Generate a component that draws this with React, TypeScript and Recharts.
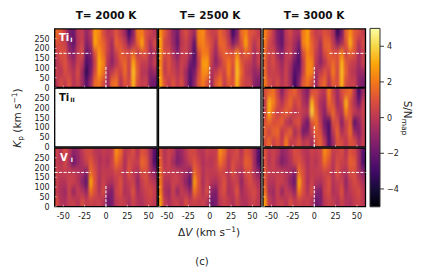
import { ReferenceArea, ReferenceLine, Scatter, ScatterChart, XAxis, YAxis } from 'recharts';

const FONT = '"DejaVu Sans", sans-serif';
const PAGE_W = 423;
const PAGE_H = 279;

const dvCentres = [-57.5, -52.5, -47.5, -42.5, -37.5, -32.5, -27.5, -22.5, -17.5, -12.5, -7.5, -2.5, 2.5, 7.5, 12.5, 17.5, 22.5, 27.5, 32.5, 37.5, 42.5, 47.5, 52.5, 57.5];
const kpCentres = [275, 225, 175, 125, 75, 25];
const dvTicks = [-50, -25, 0, 25, 50];
const kpTicks = [0, 50, 100, 150, 200, 250];
const snTicks = [-4, -2, 0, 2, 4];
const infernoStops = ['#000004', '#160b39', '#420a68', '#6a176e', '#932667', '#bc3754', '#dd513a', '#f37819', '#fca50a', '#f6d746', '#fcffa4'];

// rows run from the top of each panel (Kp 275) to the bottom (Kp 25)
const tiI2000 = [
  [1.6, 1.2, 0.2, -1.6, -2.0, 0.0, 0.2, -1.0, 0.0, 2.8, 2.2, 0.8, 0.0, 0.2, 1.0, 0.2, -0.8, -3.0, -1.2, 2.0, 2.0, 0.8, 0.4, -0.2],
  [1.0, 0.6, 0.4, -1.4, -2.2, -0.2, 0.4, -1.4, -0.6, 3.0, 2.0, 1.4, 0.4, -0.6, 1.4, 1.0, 0.2, -1.4, -0.4, 1.4, 3.0, 0.8, -0.4, 0.8],
  [0.2, 1.0, 0.8, -0.8, -1.4, 0.2, 0.8, -2.2, -1.4, 1.0, 2.6, 1.6, 0.2, -0.8, 0.4, 1.4, 0.8, 0.8, 1.6, 0.2, 1.0, 1.0, -0.8, -0.2],
  [-0.2, 0.4, 1.0, 0.0, -0.8, 0.4, 0.0, -2.6, -2.0, 0.4, 3.0, 2.2, -0.2, -1.2, -0.2, 1.0, 1.6, 0.4, 3.0, 1.0, 0.2, 0.2, -0.6, 0.4],
  [0.4, -0.2, 0.8, 0.4, -0.2, 0.8, -0.8, -3.4, -1.6, 0.8, 2.8, 1.8, -0.6, 0.2, 1.0, 0.4, 1.6, 0.4, 3.4, 1.2, -0.2, -0.2, -1.2, -0.8],
  [-0.2, 0.8, 0.2, 1.0, -0.2, 0.4, -0.6, -2.4, -0.8, 1.6, 1.8, 0.8, -0.8, 1.6, 1.8, -0.2, 1.0, 0.6, 3.2, 0.8, 0.2, 0.4, -1.6, -2.0],
];
const tiI2500 = [
  [2.6, 1.2, 0.2, -1.0, -1.8, 0.2, 0.8, 0.0, -0.8, 2.2, 2.4, 1.0, 0.4, 0.4, 1.4, 0.8, -0.2, -3.0, -1.4, 1.6, 2.2, 1.0, 0.8, 0.2],
  [3.0, 0.6, 0.2, -0.8, -2.2, 0.0, 0.4, -0.4, -2.2, 2.0, 2.2, 1.4, 0.8, -0.4, 1.6, 1.4, 0.2, -1.4, -0.6, 1.0, 3.0, 1.0, -0.2, 0.8],
  [2.6, 0.8, 0.8, -0.4, -1.4, 0.2, 0.4, -0.6, -2.8, 0.8, 2.0, 2.0, 0.4, -0.8, 0.8, 1.4, 1.0, 1.0, 2.2, 0.4, 1.4, 1.0, -0.6, 0.2],
  [2.4, 0.2, 1.0, 0.2, -0.6, 0.4, 0.0, -1.8, -2.4, 0.2, 2.8, 2.8, 0.2, -1.2, -0.2, 1.0, 2.0, 1.0, 3.2, 1.2, 0.4, 0.2, -0.6, 0.4],
  [2.6, 0.2, 0.8, 0.4, -0.2, 0.4, -0.8, -2.4, -1.6, 0.8, 2.4, 2.4, -0.4, 0.2, 1.0, 0.4, 2.0, 0.6, 3.4, 1.6, 0.2, -0.2, -1.0, -0.8],
  [3.0, 1.0, 0.2, 1.0, 0.2, 0.8, -0.6, -2.6, -1.0, 1.2, 2.0, 1.0, -0.8, 1.2, 1.8, 0.2, 1.2, 1.0, 3.2, 1.0, 0.4, 0.4, -1.2, -1.6],
];
const tiI3000 = [
  [2.2, 1.2, 0.0, -1.6, -2.0, 0.0, 0.6, -0.2, -0.4, 2.0, 2.8, 1.0, 0.2, 0.4, 1.0, 0.6, -0.4, -3.2, -1.6, 1.4, 2.4, 1.2, 0.8, 0.2],
  [2.0, 0.6, 0.0, -1.4, -2.2, -0.2, 0.2, -0.6, -1.6, 2.2, 2.8, 1.4, 0.6, -0.6, 1.4, 1.4, 0.2, -1.4, -0.6, 1.0, 3.2, 1.2, -0.2, 0.8],
  [1.6, 0.4, 0.6, -0.8, -1.4, 0.0, 0.4, -1.0, -2.4, 0.8, 2.2, 1.6, 0.2, -0.8, 0.8, 1.4, 0.8, 1.0, 2.2, 0.4, 1.4, 1.0, -0.6, 0.2],
  [1.4, 0.2, 0.8, 0.0, -0.8, 0.2, -0.4, -2.0, -2.6, 0.2, 2.4, 2.2, 0.0, -1.2, -0.2, 1.0, 1.6, 0.8, 3.2, 1.2, 0.4, 0.2, -0.6, 0.4],
  [1.6, 0.2, 0.4, 0.2, -0.4, 0.4, -0.8, -2.6, -2.0, 0.4, 2.4, 2.2, -0.6, 0.2, 1.0, 0.4, 2.0, 0.6, 3.4, 1.4, 0.2, -0.2, -1.0, -0.8],
  [2.0, 0.8, 0.2, 0.8, -0.2, 0.4, -0.6, -3.0, -1.2, 1.2, 1.8, 0.8, -1.0, 1.0, 1.6, -0.2, 1.2, 0.8, 3.2, 0.8, 0.4, 0.4, -1.2, -1.6],
];
const tiII3000 = [
  [0.8, 1.4, 1.8, 0.4, -1.2, 0.2, 1.0, 1.4, 0.4, -0.6, -1.4, 0.8, 1.0, 0.2, -0.2, 2.0, 0.4, -0.8, 0.8, 1.2, 1.6, -0.2, -2.8, -0.8],
  [0.2, 3.2, 2.2, 0.8, -0.2, 0.8, 1.6, 0.4, 1.0, -0.4, -0.8, 3.2, 1.0, -0.4, -0.8, 1.6, 0.8, -0.8, 0.2, 3.2, 0.8, -0.4, -1.8, 0.2],
  [0.4, 3.0, 1.4, 0.2, 0.8, 1.4, 0.8, 0.0, 0.4, 0.2, 0.0, 3.8, 1.6, -0.2, -1.2, 0.6, 1.6, 0.0, -0.4, 2.2, 1.0, 0.2, -0.2, 0.4],
  [1.0, 1.6, 0.8, 1.0, 1.4, 0.0, -0.6, 0.8, 1.0, -0.8, -2.0, 1.0, 1.8, 0.2, -1.8, -2.6, 0.8, 0.8, -1.2, 0.4, 1.2, -2.4, -1.2, 0.2],
  [1.4, 0.4, 1.4, 1.6, 0.0, 0.8, 1.4, -0.6, 0.2, -1.8, -1.4, 0.4, 1.4, 0.8, -1.2, -2.6, 0.0, 1.4, -0.4, 0.4, 1.6, -0.8, -1.4, 0.0],
  [0.8, 1.6, 0.4, 1.0, 0.2, 2.0, 0.2, 0.4, 1.0, 0.0, 0.4, -0.6, 0.8, 1.4, 0.0, -2.4, -0.8, 1.0, 0.8, 0.0, 1.0, 0.8, -0.6, 0.2],
];
const vI2000 = [
  [0.4, -0.2, 0.8, 0.0, -1.2, -0.8, 0.0, 0.6, 0.6, 0.0, -0.2, 0.2, 0.0, 0.2, 2.4, 1.6, 0.0, 0.4, 0.8, -0.2, 1.0, 0.6, -0.6, -2.6],
  [0.2, -0.2, 0.6, -0.6, -2.0, -1.0, -0.4, 0.4, 1.2, 0.4, -0.4, 0.0, -0.4, 0.4, 1.8, 1.0, -0.4, 0.8, 0.4, 0.2, 1.6, 1.2, -0.6, -2.8],
  [0.4, 0.2, 0.2, 0.2, 0.2, -0.2, -0.6, -1.4, 1.6, 0.8, -0.2, 0.2, 0.2, 0.2, 0.6, 0.4, -0.2, 1.0, 0.0, -0.4, 0.8, 0.8, -0.4, -1.2],
  [0.4, -0.2, -0.2, 0.4, 0.4, -0.2, -1.2, -2.4, 3.0, 1.0, -0.4, 0.4, -0.2, -0.4, 0.2, 1.0, -0.2, 0.2, 0.4, -1.0, 0.2, 0.8, 0.2, -0.2],
  [0.2, -0.4, -0.8, 0.4, -1.0, 0.2, -0.2, -1.0, 1.8, 0.8, -0.2, 0.8, -1.2, -1.6, 0.4, 0.8, -0.4, 0.0, 1.0, -0.6, 0.0, 0.4, 0.8, 0.2],
  [0.8, -0.2, -0.4, 0.2, 0.4, -0.2, 0.8, 0.2, 0.4, 0.2, 0.4, -0.2, -2.0, -1.6, 0.0, 0.4, 0.2, -0.4, 0.4, -0.2, -0.4, 0.2, 0.4, 0.0],
];
const vI2500 = [
  [1.0, -0.2, 0.4, 0.0, -1.2, -0.8, 0.0, 0.6, 0.6, 0.0, -0.2, 0.4, 0.2, 0.2, 2.4, 1.6, 0.2, 0.4, 0.8, -0.2, 1.0, 0.6, -0.6, -2.6],
  [1.4, -0.2, 0.4, -0.6, -1.6, -1.0, -0.4, 0.4, 1.0, 0.4, -0.4, 0.0, -0.2, 0.4, 1.8, 1.0, -0.2, 0.8, 0.4, 0.2, 1.4, 1.2, -0.6, -2.8],
  [1.6, 0.2, 0.2, 0.2, 0.2, -0.2, -0.6, -1.4, 1.6, 0.8, -0.2, 0.2, 0.2, 0.2, 0.6, 0.4, -0.2, 1.0, 0.0, -0.4, 0.8, 0.8, -0.4, -1.2],
  [2.0, -0.2, -0.2, 0.4, 0.4, -0.2, -1.2, -2.4, 2.8, 1.0, -0.4, 0.4, -0.2, -0.4, 0.2, 1.0, -0.2, 0.2, 0.4, -1.0, 0.2, 0.8, 0.2, -0.4],
  [2.2, -0.4, -0.8, 0.4, -1.0, 0.2, -0.2, -1.0, 1.8, 0.8, -0.2, 0.8, -1.2, -1.6, 0.4, 0.8, -0.4, 0.0, 1.0, -0.6, 0.0, 0.4, 0.8, 0.0],
  [2.8, 0.2, -0.4, 0.2, 0.4, -0.2, 0.8, 0.2, 0.4, 0.2, 0.4, -0.2, -2.0, -1.6, 0.0, 0.4, 0.2, -0.4, 0.4, -0.2, -0.4, 0.2, 0.4, 0.0],
];
const vI3000 = [
  [1.0, 0.0, 0.4, 0.0, -1.0, -0.8, 0.0, 0.8, 0.6, 0.0, -0.2, 0.4, 0.2, 0.4, 2.4, 1.6, 0.2, 0.4, 0.8, -0.2, 1.0, 0.6, -0.6, -2.4],
  [1.0, -0.2, 0.4, -0.6, -1.6, -1.0, -0.4, 0.6, 1.0, 0.4, -0.4, 0.2, -0.2, 0.4, 1.8, 1.0, -0.2, 0.8, 0.4, 0.2, 1.4, 1.2, -0.6, -2.6],
  [1.2, 0.2, 0.2, 0.2, 0.2, -0.2, -0.6, -1.4, 1.6, 0.8, -0.2, 0.2, 0.2, 0.2, 0.6, 0.4, -0.2, 1.0, 0.0, -0.4, 0.8, 0.8, -0.4, -1.2],
  [1.2, -0.2, -0.2, 0.4, 0.4, -0.2, -1.2, -2.0, 3.0, 1.0, -0.4, 0.4, -0.2, -0.4, 0.2, 1.0, -0.2, 0.2, 0.4, -1.0, 0.2, 0.8, 0.2, -0.4],
  [1.8, -0.4, -0.8, 0.4, -1.0, 0.2, -0.2, -1.0, 2.0, 0.8, -0.2, 0.8, -1.2, -1.6, 0.4, 0.8, -0.4, 0.0, 1.0, -0.6, 0.0, 0.4, 0.8, 0.0],
  [2.8, 0.2, -0.4, 0.2, 0.4, -0.2, 0.8, 0.2, 0.4, 0.2, 0.4, -0.2, -2.0, -1.6, 0.0, 0.4, 0.2, -0.4, 0.4, -0.2, -0.4, 0.2, 0.4, 0.0],
];

const colLefts = [54.7, 158.5, 263];
const rowTops = [28.9, 88.2, 148];
const PANEL_W = 102.5;
const PANEL_H = 58.6;
const AXIS_SIZE = 1;

function inferno(v: number) {
  const t = Math.max(0, Math.min(0.9999, (v + 5) / 10)) * (infernoStops.length - 1);
  const i = Math.floor(t);
  const f = t - i;
  const hex = (s: string, k: number) => parseInt(s.slice(1 + k * 2, 3 + k * 2), 16);
  const mix = [0, 1, 2].map((k) => Math.round(hex(infernoStops[i], k) * (1 - f) + hex(infernoStops[i + 1], k) * f));
  return `rgb(${mix.join(',')})`;
}

function toCells(grid: number[][]) {
  return grid.flatMap((row, r) => row.map((sn, c) => ({ dv: dvCentres[c], kp: kpCentres[r], sn, r, c })));
}

function HeatCell(props: any) {
  const { cx, cy, payload } = props;
  const w = PANEL_W / dvCentres.length + 0.6;
  const h = PANEL_H / kpCentres.length + 0.6;
  // edge cells run on past the frame so the blur does not fade at the border
  const padL = payload.c === 0 ? 8 : 0;
  const padR = payload.c === dvCentres.length - 1 ? 8 : 0;
  const padT = payload.r === 0 ? 12 : 0;
  const padB = payload.r === kpCentres.length - 1 ? 12 : 0;
  return <rect x={cx - w / 2 - padL} y={cy - h / 2 - padT} width={w + padL + padR} height={h + padT + padB} fill={inferno(payload.sn)} />;
}

type PanelProps = {
  id: string;
  col: number;
  row: number;
  grid?: number[][];
  rightDash?: boolean;
};

function Panel({ id, col, row, grid, rightDash = true }: PanelProps) {
  const left = colLefts[col];
  const top = rowTops[row];
  const showY = col === 0;
  const showX = row === 2;
  const tickColor = grid ? '#fff' : 'transparent';
  return (
    <div style={{ position: 'absolute', left: 0, top: 0 }}>
      <style>{`.heat-${id}{filter:url(#soft-${id});clip-path:url(#clip-${id})}`}</style>
      <ScatterChart
        width={PAGE_W}
        height={PAGE_H}
        margin={{ left: left - AXIS_SIZE, top, right: PAGE_W - left - PANEL_W, bottom: PAGE_H - top - PANEL_H - AXIS_SIZE }}
      >
        <defs>
          <filter id={`soft-${id}`} x="-15%" y="-25%" width="130%" height="150%" colorInterpolationFilters="sRGB">
            <feGaussianBlur stdDeviation="1.2 3.5" />
          </filter>
          <clipPath id={`clip-${id}`}>
            <rect x={left} y={top} width={PANEL_W} height={PANEL_H} />
          </clipPath>
        </defs>
        <XAxis
          type="number"
          dataKey="dv"
          domain={[-60, 60]}
          ticks={dvTicks}
          interval={0}
          height={AXIS_SIZE}
          axisLine={false}
          tickLine={false}
          tick={({ x, payload }: any) => (
            <g>
              <line x1={x} x2={x} y1={top + PANEL_H} y2={top + PANEL_H - 2} stroke={tickColor} strokeWidth={0.5} />
              {showX && (
                <text x={x} y={top + PANEL_H + 12.5} textAnchor="middle" fontFamily={FONT} fontSize={8} fill="#222">
                  {payload.value}
                </text>
              )}
            </g>
          )}
        />
        <YAxis
          type="number"
          dataKey="kp"
          domain={[0, 300]}
          ticks={kpTicks}
          interval={0}
          width={AXIS_SIZE}
          axisLine={false}
          tickLine={false}
          tick={({ y, payload }: any) => (
            <g>
              <line x1={left} x2={left + 2} y1={y} y2={y} stroke={tickColor} strokeWidth={0.5} />
              {showY && (
                <text x={left - 5} y={y + 3} textAnchor="end" fontFamily={FONT} fontSize={8} fill="#222">
                  {payload.value}
                </text>
              )}
            </g>
          )}
        />
        <Scatter
          className={`heat-${id}`}
          data={grid ? toCells(grid) : emptyPanelAnchor}
          shape={grid ? HeatCell : () => <g />}
          isAnimationActive={false}
          zIndex={50}
        />
        {grid && (
          <ReferenceLine
            segment={[{ x: -60, y: 175 }, { x: -18, y: 175 }]}
            stroke="#fff"
            strokeWidth={1}
            strokeDasharray="3 1.4"
          />
        )}
        {grid && rightDash && (
          <ReferenceLine
            segment={[{ x: 18, y: 175 }, { x: 60, y: 175 }]}
            stroke="#fff"
            strokeWidth={1}
            strokeDasharray="3 1.4"
          />
        )}
        {grid && (
          <ReferenceLine
            segment={[{ x: 0, y: 0 }, { x: 0, y: 110 }]}
            stroke="#fff"
            strokeWidth={1}
            strokeDasharray="3 1.4"
          />
        )}
        <ReferenceArea x1={-60} x2={60} y1={0} y2={300} fill="none" stroke="#000" strokeWidth={1.3} zIndex={300} />
      </ScatterChart>
    </div>
  );
}

// an empty frame still needs one invisible point or the axes do not resolve
const emptyPanelAnchor = [{ dv: 0, kp: 150 }];
const barAnchor = [{ x: 0.5, sn: 0 }];

function ColorBar() {
  const left = 370;
  const top = 28.4;
  const w = 10;
  const h = 178.4;
  return (
    <div style={{ position: 'absolute', left: 0, top: 0 }}>
      <ScatterChart
        width={PAGE_W}
        height={PAGE_H}
        margin={{ left, top, right: PAGE_W - left - w - AXIS_SIZE, bottom: PAGE_H - top - h }}
      >
        <defs>
          <linearGradient id="infernoBar" x1="0" y1="1" x2="0" y2="0">
            {infernoStops.map((c, i) => (
              <stop key={c} offset={i / (infernoStops.length - 1)} stopColor={c} />
            ))}
          </linearGradient>
        </defs>
        <XAxis type="number" dataKey="x" domain={[0, 1]} hide />
        <YAxis
          type="number"
          dataKey="sn"
          orientation="right"
          domain={[-5, 5]}
          ticks={snTicks}
          interval={0}
          width={AXIS_SIZE}
          axisLine={false}
          tickLine={false}
          tick={({ y, payload }: any) => (
            <g>
              <line x1={left + w} x2={left + w + 4} y1={y} y2={y} stroke="#222" strokeWidth={0.9} />
              <text x={left + w + 7} y={y + 3} fontFamily={FONT} fontSize={8} fill="#222">
                {String(payload.value).replace('-', '\u2212')}
              </text>
            </g>
          )}
        />
        <Scatter data={barAnchor} shape={() => <g />} isAnimationActive={false} />
        <ReferenceArea x1={0} x2={1} y1={-5} y2={5} fill="url(#infernoBar)" fillOpacity={1} stroke="#333" strokeWidth={1} />
      </ScatterChart>
    </div>
  );
}

function Labels() {
  const text = { fontFamily: FONT, fill: '#222' };
  return (
    <svg width={PAGE_W} height={PAGE_H} style={{ position: 'absolute', left: 0, top: 0 }}>
      {['T= 2000 K', 'T= 2500 K', 'T= 3000 K'].map((t, i) => (
        <text key={t} {...text} x={[106, 210, 314][i]} y={19} textAnchor="middle" fontSize={10.5} fontWeight="bold" fill="#111">
          {t}
        </text>
      ))}
      <text x={59} y={41} fontFamily={FONT} fontSize={10} fontWeight="bold" fill="#fff">
        Ti<tspan dx={1} dy={1} fontSize={6}>I</tspan>
      </text>
      <text x={59} y={101} fontFamily={FONT} fontSize={10} fontWeight="bold" fill="#111">
        Ti<tspan dx={1} dy={1} fontSize={6}>II</tspan>
      </text>
      <text x={60} y={161} fontFamily={FONT} fontSize={10} fontWeight="bold" fill="#fff">
        V<tspan dx={3} dy={1} fontSize={6}>I</tspan>
      </text>
      <text {...text} transform="translate(21,118) rotate(-90)" textAnchor="middle" fontSize={10.5}>
        <tspan fontStyle="italic">K</tspan>
        <tspan dy={2} fontSize={7.5}>p</tspan>
        <tspan dy={-2}> (km s</tspan>
        <tspan dy={-4} fontSize={7.5}>−1</tspan>
        <tspan dy={4}>)</tspan>
      </text>
      <text {...text} x={209} y={236} textAnchor="middle" fontSize={10.5}>
        Δ<tspan fontStyle="italic">V</tspan> (km s
        <tspan dy={-4} fontSize={7.5}>−1</tspan>
        <tspan dy={4}>)</tspan>
      </text>
      <text {...text} x={202} y={265} textAnchor="middle" fontSize={10}>
        (c)
      </text>
      <text {...text} transform="translate(404,118) rotate(90)" textAnchor="middle" fontSize={10.5}>
        S/N<tspan dy={2} fontSize={7.5}>map</tspan>
      </text>
    </svg>
  );
}

export default function App() {
  return (
    <div style={{ position: 'absolute', left: 0, top: 0, width: PAGE_W, height: PAGE_H, background: '#fff' }}>
      <Panel id="a" col={0} row={0} grid={tiI2000} />
      <Panel id="b" col={1} row={0} grid={tiI2500} />
      <Panel id="c" col={2} row={0} grid={tiI3000} />
      <Panel id="d" col={0} row={1} />
      <Panel id="e" col={1} row={1} />
      <Panel id="f" col={2} row={1} grid={tiII3000} rightDash={false} />
      <Panel id="g" col={0} row={2} grid={vI2000} />
      <Panel id="h" col={1} row={2} grid={vI2500} />
      <Panel id="i" col={2} row={2} grid={vI3000} />
      <ColorBar />
      <Labels />
    </div>
  );
}
